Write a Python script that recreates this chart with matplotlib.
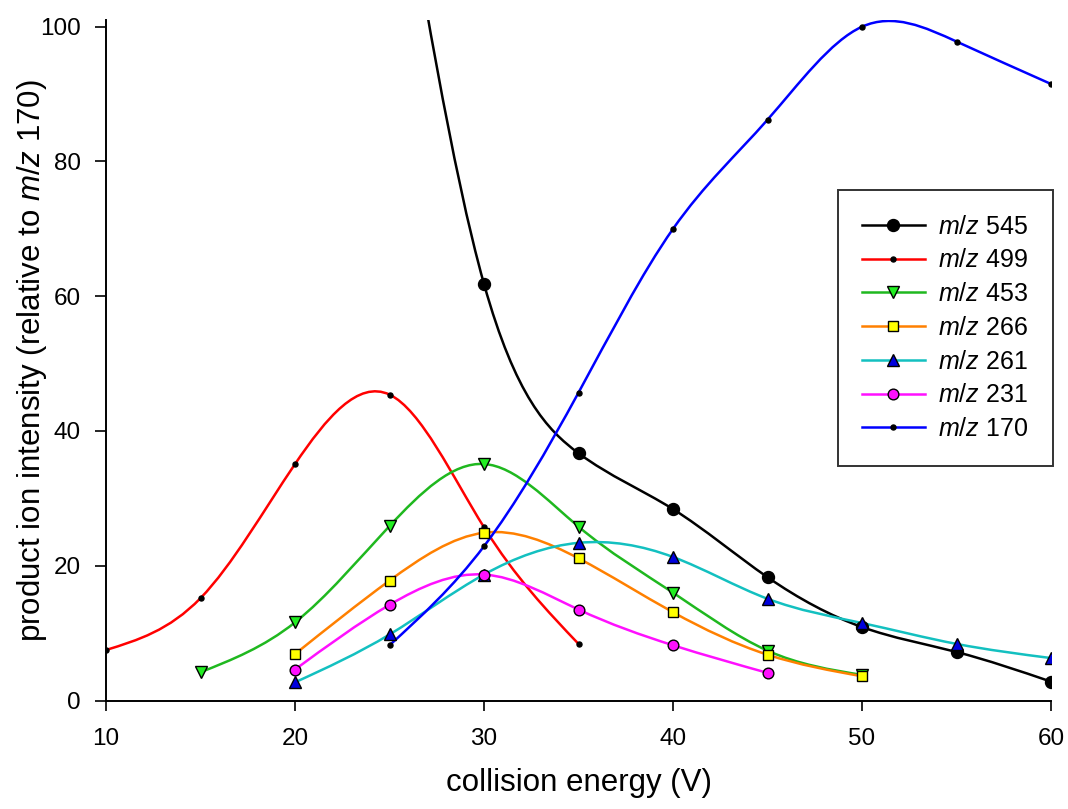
import numpy as np
import matplotlib.pyplot as plt
from matplotlib.path import Path
from matplotlib.patches import PathPatch
from matplotlib.lines import Line2D

plt.rcParams['font.family'] = ['Liberation Sans', 'DejaVu Sans']
plt.rcParams['mathtext.fontset'] = 'custom'
plt.rcParams['mathtext.rm'] = 'Liberation Sans'
plt.rcParams['mathtext.it'] = 'Liberation Sans:italic'

# collision energy (V) and relative intensities
x_545 = [25, 30, 35, 40, 45, 50, 55, 60]
y_545 = [135.0, 61.8, 36.7, 28.4, 18.3, 10.9, 7.2, 2.8]

x_499 = [10, 15, 20, 25, 30, 35]
y_499 = [7.5, 15.2, 35.1, 45.4, 25.7, 8.4]

x_453 = [15, 20, 25, 30, 35, 40, 45, 50]
y_453 = [4.2, 11.6, 25.9, 35.1, 25.8, 16.0, 7.4, 3.8]

x_266 = [20, 25, 30, 35, 40, 45, 50]
y_266 = [6.9, 17.8, 24.9, 21.1, 13.1, 6.8, 3.6]

x_261 = [20, 25, 30, 35, 40, 45, 50, 55, 60]
y_261 = [2.7, 9.8, 18.7, 23.4, 21.3, 15.1, 11.5, 8.4, 6.3]

x_231 = [20, 25, 30, 35, 40, 45]
y_231 = [4.6, 14.2, 18.7, 13.5, 8.2, 4.1]

x_170 = [25, 30, 35, 40, 45, 50, 55, 60]
y_170 = [8.2, 22.9, 45.7, 70.0, 86.2, 100.0, 97.8, 91.5]

labels = ['545', '499', '453', '266', '261', '231', '170']


def spline_path(x, y):
    """natural cubic spline through the points, as bezier segments"""
    x = np.asarray(x, float)
    y = np.asarray(y, float)
    n = len(x)
    h = np.diff(x)
    A = np.zeros((n, n))
    b = np.zeros(n)
    A[0, 0] = A[-1, -1] = 1
    for i in range(1, n - 1):
        A[i, i - 1] = h[i - 1]
        A[i, i] = 2 * (h[i - 1] + h[i])
        A[i, i + 1] = h[i]
        b[i] = 6 * ((y[i + 1] - y[i]) / h[i] - (y[i] - y[i - 1]) / h[i - 1])
    M = np.linalg.solve(A, b)
    m = np.zeros(n)
    for i in range(n - 1):
        m[i] = (y[i + 1] - y[i]) / h[i] - h[i] * (2 * M[i] + M[i + 1]) / 6
    m[-1] = (y[-1] - y[-2]) / h[-1] + h[-1] * (M[-2] + 2 * M[-1]) / 6
    verts = [(x[0], y[0])]
    codes = [Path.MOVETO]
    for i in range(n - 1):
        verts += [(x[i] + h[i] / 3, y[i] + m[i] * h[i] / 3),
                  (x[i + 1] - h[i] / 3, y[i + 1] - m[i + 1] * h[i] / 3),
                  (x[i + 1], y[i + 1])]
        codes += [Path.CURVE4] * 3
    return Path(verts, codes)


series = [
    (x_545, y_545, 'black', 'o', 'black', 8.6),
    (x_499, y_499, '#ff0000', 'o', 'black', 3.6),
    (x_453, y_453, '#1fb81f', 'v', '#22ee22', 8.6),
    (x_266, y_266, '#ff8000', 's', '#ffff00', 6.8),
    (x_261, y_261, '#13c0c0', '^', '#0000dd', 8.6),
    (x_231, y_231, '#ff10ff', 'o', '#ff10ff', 7.7),
    (x_170, y_170, '#0000ff', 'o', 'black', 3.6),
]

fig = plt.figure(figsize=(10.68, 8.09), dpi=100)
ax = fig.add_axes([0.0993, 0.1341, 0.8848, 0.8412])

handles = []
for xs, ys, col, mk, fc, ms in series:
    ax.add_patch(PathPatch(spline_path(xs, ys), fill=False, edgecolor=col, lw=1.8))
    ax.plot(xs, ys, ls='none', marker=mk, ms=ms, mfc=fc, mec='black', mew=1.0)
    handles.append(Line2D([], [], color=col, lw=1.8, marker=mk, ms=ms,
                          mfc=fc, mec='black', mew=1.0))

ax.set_xlim(10, 60)
ax.set_ylim(0, 101)
ax.set_xticks([10, 20, 30, 40, 50, 60])
ax.set_yticks([0, 20, 40, 60, 80, 100])
ax.spines['top'].set_visible(False)
ax.spines['right'].set_visible(False)
ax.spines['left'].set_linewidth(1.4)
ax.spines['bottom'].set_linewidth(1.4)
ax.tick_params(axis='x', direction='out', length=7.5, width=1.2, labelsize=17.5, pad=12.5)
ax.tick_params(axis='y', direction='out', length=8, width=1.2, labelsize=17.5, pad=10)

ax.set_xlabel('collision energy (V)', fontsize=22.5)
ax.xaxis.set_label_coords(0.5, -0.0995)
ax.set_ylabel(r'product ion intensity (relative to $\it{m/z}$ 170)', fontsize=22.5)
ax.yaxis.set_label_coords(-0.06, 0.5)

leg = ax.legend(handles, [r'$\it{m/z}$ ' + l for l in labels],
                loc='upper right', bbox_to_anchor=(1.002, 0.75), fontsize=18,
                handlelength=2.5, labelspacing=0.39, borderpad=0.98,
                handletextpad=0.55, borderaxespad=0, fancybox=False)
leg.get_frame().set_edgecolor('black')
leg.get_frame().set_linewidth(1.4)

fig.savefig('out.png', dpi=100)
